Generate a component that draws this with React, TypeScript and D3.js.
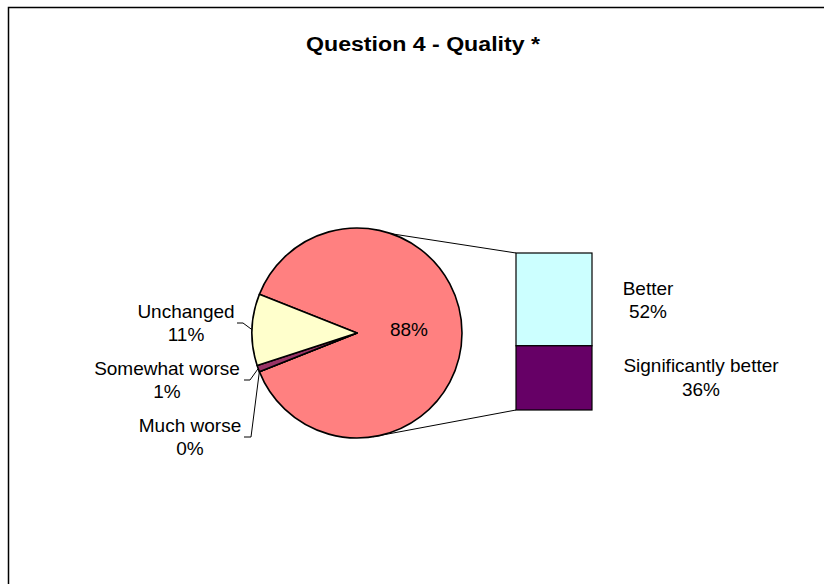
import React from "react";
import * as d3 from "d3";

const title = "Question 4 - Quality *";
const pieCategories = ["Other", "Much worse", "Somewhat worse", "Unchanged"];
const pieValues = [88, 0, 1, 11];
const pieColors = ["#FF8080", "#9999FF", "#993366", "#FFFFCC"];
const pieLabels = ["88%", "0%", "1%", "11%"];
const barCategories = ["Better", "Significantly better"];
const barValues = [52, 36];
const barColors = ["#CCFFFF", "#660066"];
const barLabels = ["52%", "36%"];

const W = 824;
const H = 584;
const cx = 357;
const cy = 333;
const R = 105;
const font = "'Liberation Sans', Arial, sans-serif";

export default function App() {
  const otherShare = pieValues[0] / d3.sum(pieValues);
  const start = Math.PI / 2 - otherShare * Math.PI;
  const pie = d3
    .pie<number>()
    .sort(null)
    .value((d) => d)
    .startAngle(start)
    .endAngle(start + 2 * Math.PI);
  const arcs = pie(pieValues);
  const arcGen = d3.arc<d3.PieArcDatum<number>>().innerRadius(0).outerRadius(R);

  const pt = (a: number, r = R) => [cx + r * Math.sin(a), cy - r * Math.cos(a)];

  // bar
  const barX = 516;
  const barW = 76;
  const barTop = 253;
  const barBottom = 410;
  const y = d3.scaleLinear().domain([0, d3.sum(barValues)]).range([barTop, barBottom]);
  let acc = 0;
  const bars = barValues.map((v, i) => {
    const y0 = y(acc);
    acc += v;
    return { y0, y1: y(acc), color: barColors[i] };
  });

  const topConn = pt((19 * Math.PI) / 180);
  const botConn = pt((171 * Math.PI) / 180);

  // left labels layout
  const leftLabels = [
    { idx: 3, x: 186, y1: 318, y2: 341, end: [237, 323], elbow: [243, 323] },
    { idx: 2, x: 167, y1: 375, y2: 398, end: [244, 380], elbow: [250, 380] },
    { idx: 1, x: 190, y1: 432, y2: 455, end: [244, 437], elbow: [251, 437] },
  ];

  const fs = 19;

  return (
    <svg width={W} height={H} style={{ position: "absolute", left: 0, top: 0 }}>
      <rect x={0} y={0} width={W} height={H} fill="#fff" />
      <rect x={8.5} y={7.5} width={W + 10} height={H + 10} fill="none" stroke="#000" strokeWidth={1.5} />
      <text
        x={423}
        y={51}
        textAnchor="middle"
        fontFamily={font}
        fontWeight="bold"
        fontSize={20}
        textLength={234}
        lengthAdjust="spacingAndGlyphs"
      >
        {title}
      </text>

      {/* connector lines */}
      <line x1={topConn[0]} y1={topConn[1]} x2={barX} y2={barTop} stroke="#000" strokeWidth={1} />
      <line x1={botConn[0]} y1={botConn[1]} x2={barX} y2={barBottom} stroke="#000" strokeWidth={1} />

      {/* pie */}
      <g transform={`translate(${cx},${cy})`}>
        {arcs.map((a, i) => (
          <path key={pieCategories[i]} d={arcGen(a) || ""} fill={pieColors[i]} stroke="#000" strokeWidth={1.6} strokeLinejoin="round" />
        ))}
      </g>
      <text x={409} y={336} textAnchor="middle" fontFamily={font} fontSize={fs}>
        {pieLabels[0]}
      </text>

      {/* left labels with leader lines */}
      {leftLabels.map((l) => {
        const a = arcs[l.idx];
        const p = pt((a.startAngle + a.endAngle) / 2);
        return (
          <g key={pieCategories[l.idx]}>
            <polyline
              points={`${l.end[0]},${l.end[1]} ${l.elbow[0]},${l.elbow[1]} ${p[0]},${p[1]}`}
              fill="none"
              stroke="#000"
              strokeWidth={1}
            />
            <text x={l.x} y={l.y1} textAnchor="middle" fontFamily={font} fontSize={fs}>
              {pieCategories[l.idx]}
            </text>
            <text x={l.x} y={l.y2} textAnchor="middle" fontFamily={font} fontSize={fs}>
              {pieLabels[l.idx]}
            </text>
          </g>
        );
      })}

      {/* bar */}
      {bars.map((b, i) => (
        <rect key={barCategories[i]} x={barX} y={b.y0} width={barW} height={b.y1 - b.y0} fill={b.color} stroke="#000" strokeWidth={1.2} />
      ))}
      <text x={648} y={295} textAnchor="middle" fontFamily={font} fontSize={fs}>
        {barCategories[0]}
      </text>
      <text x={648} y={318} textAnchor="middle" fontFamily={font} fontSize={fs}>
        {barLabels[0]}
      </text>
      <text x={701} y={372} textAnchor="middle" fontFamily={font} fontSize={fs}>
        {barCategories[1]}
      </text>
      <text x={701} y={396} textAnchor="middle" fontFamily={font} fontSize={fs}>
        {barLabels[1]}
      </text>
    </svg>
  );
}
